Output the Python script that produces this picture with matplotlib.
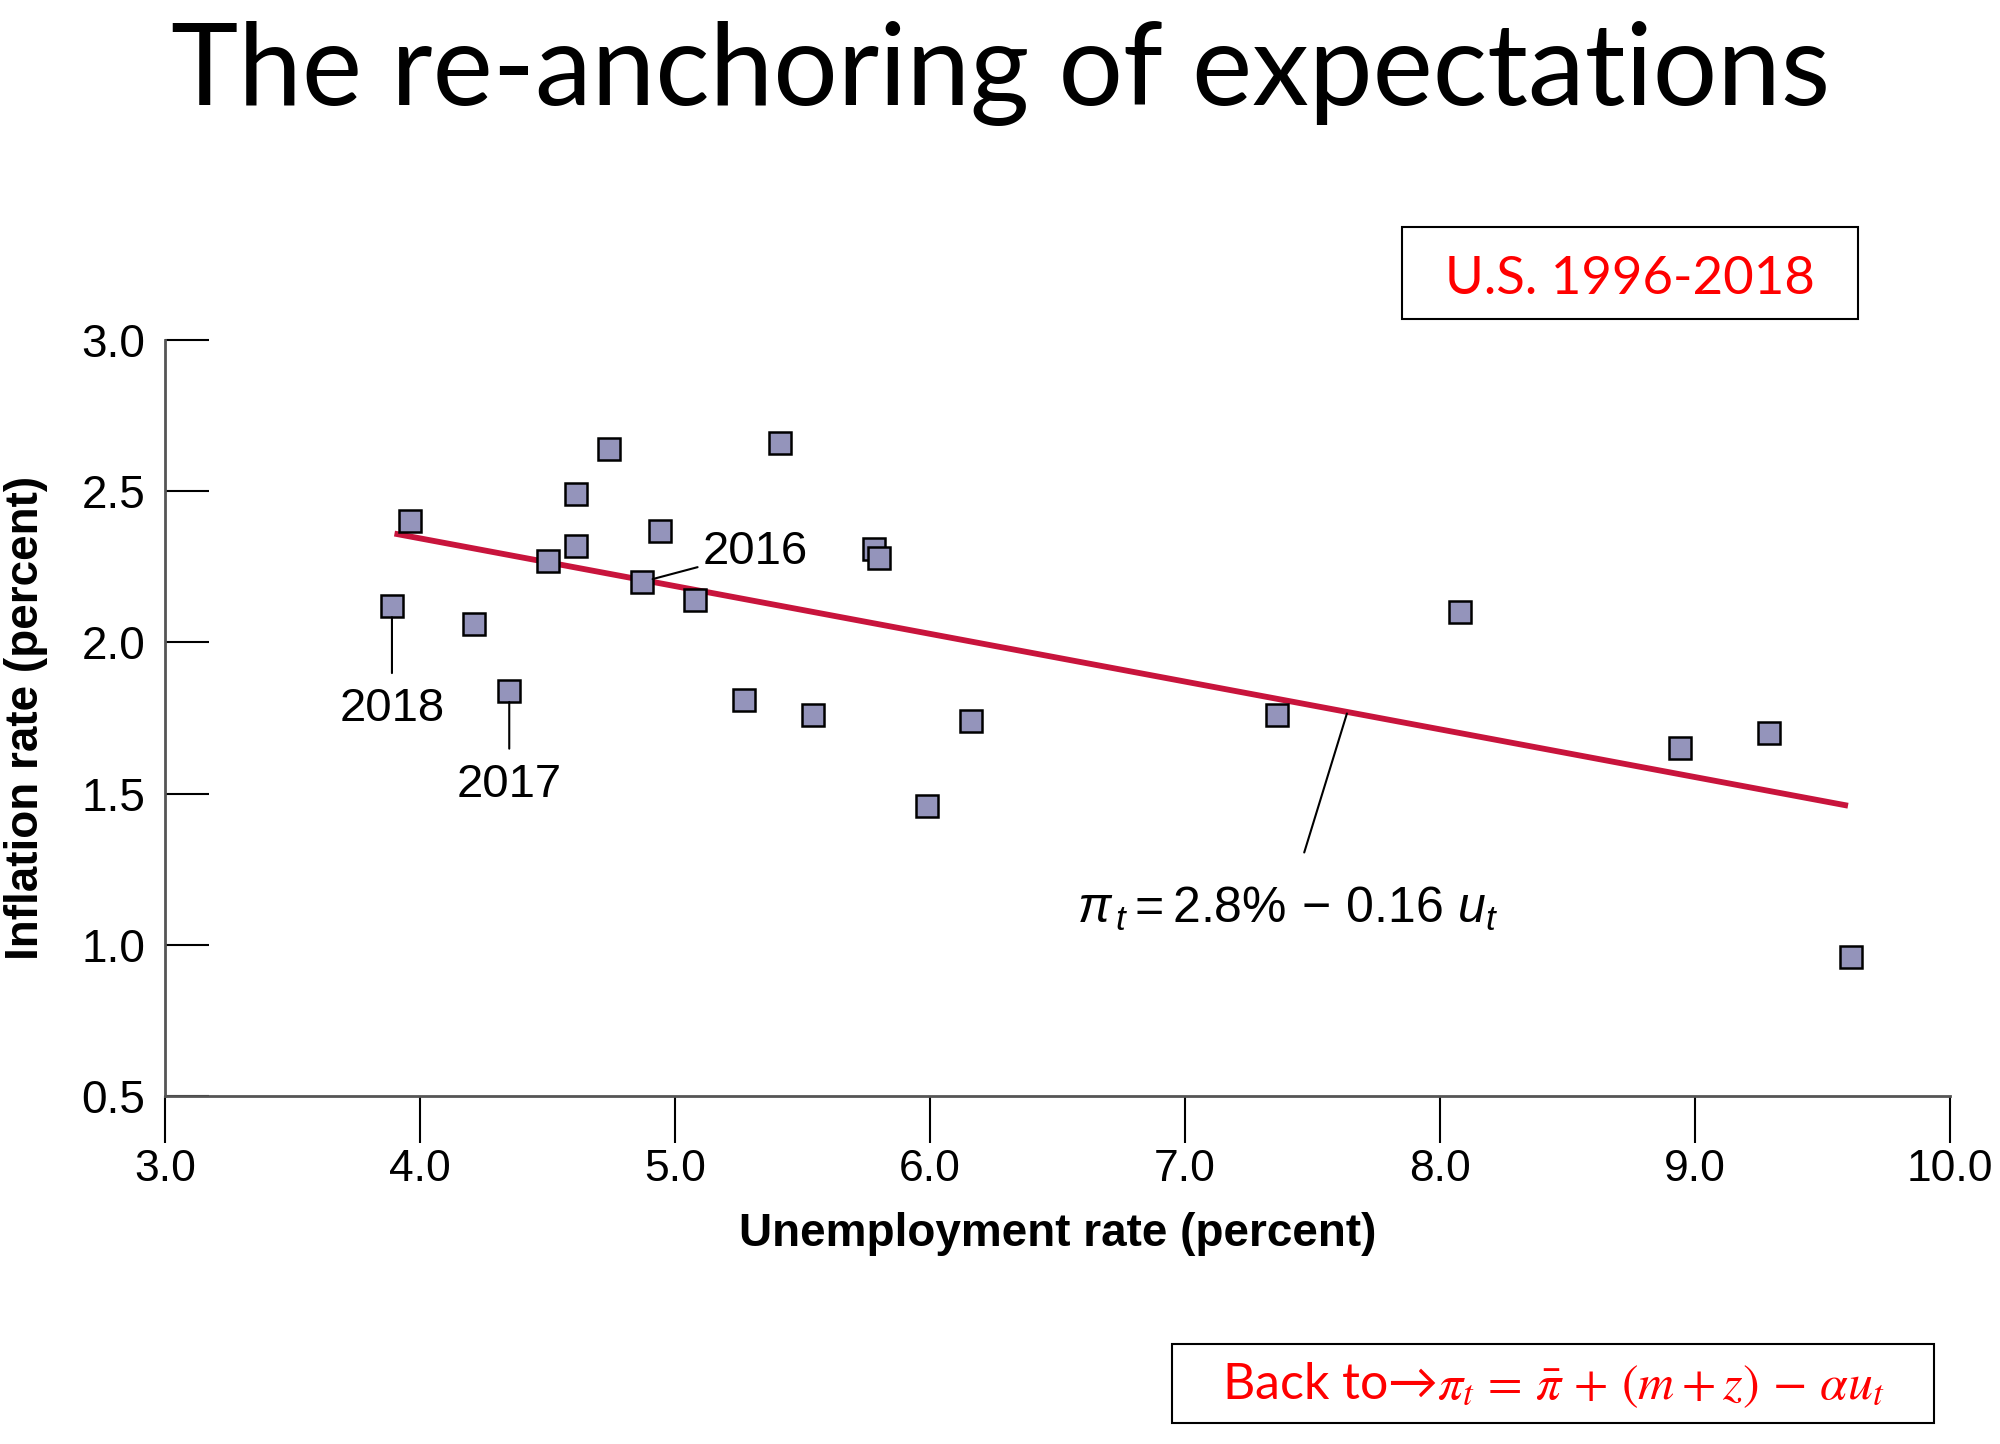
import matplotlib.pyplot as plt
from matplotlib.patches import Rectangle

# unemployment (x) and inflation (y), US 1996-2018
unemployment = [3.89, 3.96, 4.21, 4.35, 4.50, 4.61, 4.61, 4.74, 4.87, 4.94, 5.08, 5.27,
                5.41, 5.54, 5.78, 5.80, 5.99, 6.16, 7.36, 8.08, 8.94, 9.29, 9.61]
inflation = [2.12, 2.40, 2.06, 1.84, 2.27, 2.49, 2.32, 2.64, 2.20, 2.37, 2.14, 1.81,
             2.66, 1.76, 2.31, 2.28, 1.46, 1.74, 1.76, 2.10, 1.65, 1.70, 0.96]

# fitted line as drawn
fit_u = [3.9, 9.6]
fit_pi = [2.36, 1.46]

# labelled years
years = ['2016', '2017', '2018']
year_u = [4.87, 4.35, 3.89]
year_pi = [2.20, 1.84, 2.12]

xticks = [3.0, 4.0, 5.0, 6.0, 7.0, 8.0, 9.0, 10.0]
yticks = [0.5, 1.0, 1.5, 2.0, 2.5, 3.0]

plt.rcParams['mathtext.fontset'] = 'custom'
plt.rcParams['mathtext.rm'] = 'Liberation Sans'
plt.rcParams['mathtext.it'] = 'Liberation Sans:italic'

sans = ['Liberation Sans', 'DejaVu Sans']

fig = plt.figure(figsize=(20, 14.44), dpi=100)
ax = fig.add_axes([0.0825, 0.241, 0.8925, 0.5235])

ax.plot(fit_u, fit_pi, color='#c8143c', lw=4.2, solid_capstyle='butt', zorder=2)
ax.plot(unemployment, inflation, 's', ms=16, mfc='#9494bb', mec='black', mew=1.8,
        zorder=3)

# year labels with leader lines
ax.annotate(years[0], xy=(year_u[0], year_pi[0]), xytext=(5.11, 2.30),
            fontsize=34, family=sans, va='center', ha='left',
            arrowprops=dict(arrowstyle='-', color='black', lw=1.5,
                            shrinkA=2, shrinkB=8))
ax.annotate(years[1], xy=(year_u[1], year_pi[1]), xytext=(year_u[1], 1.53),
            fontsize=34, family=sans, va='center', ha='center',
            arrowprops=dict(arrowstyle='-', color='black', lw=1.5,
                            shrinkA=8, shrinkB=8))
ax.annotate(years[2], xy=(year_u[2], year_pi[2]), xytext=(year_u[2], 1.78),
            fontsize=34, family=sans, va='center', ha='center',
            arrowprops=dict(arrowstyle='-', color='black', lw=1.5,
                            shrinkA=8, shrinkB=8))

ax.annotate(r'$\pi_{\,t} = 2.8\% \,-\, 0.16\ u_t$', xy=(7.635, 1.765), xytext=(7.4, 1.12),
            fontsize=36, va='center', ha='center',
            arrowprops=dict(arrowstyle='-', color='black', lw=1.5,
                            shrinkA=22, shrinkB=0))

ax.set_xlim(3.0, 10.0)
ax.set_ylim(0.5, 3.0)
ax.set_xticks(xticks)
ax.set_yticks(yticks)
ax.set_xticklabels(['%.1f' % v for v in xticks], family=sans, fontsize=32)
ax.set_yticklabels(['%.1f' % v for v in yticks], family=sans, fontsize=33)
ax.tick_params(axis='x', direction='out', length=34, width=1.5, pad=4)
ax.tick_params(axis='y', direction='in', length=32, width=1.5, pad=14)
for s in ['top', 'right']:
    ax.spines[s].set_visible(False)
for s in ['left', 'bottom']:
    ax.spines[s].set_color('#555555')
    ax.spines[s].set_linewidth(2)

ax.set_xlabel('Unemployment rate (percent)', family=sans, fontsize=33,
              fontweight='bold', labelpad=16)
ax.set_ylabel('Inflation rate (percent)', family=sans, fontsize=33,
              fontweight='bold', labelpad=24)

fig.text(0.5005, 0.949, 'The re-anchoring of expectations', ha='center', va='center',
         family=['Lato', 'DejaVu Sans'], fontsize=82)

# boxes
fig.add_artist(Rectangle((1402 / 2000, 1 - 319 / 1444), 456 / 2000, 92 / 1444,
                         transform=fig.transFigure, fill=False, ec='black', lw=1.5))
fig.text(1630 / 2000, 1 - 279 / 1444, 'U.S. 1996-2018', ha='center', va='center',
         color='red', family=['Lato', 'DejaVu Sans'], fontsize=38)

fig.add_artist(Rectangle((1172 / 2000, 1 - 1423 / 1444), 762 / 2000, 79 / 1444,
                         transform=fig.transFigure, fill=False, ec='black', lw=1.5))
fig.text(1553 / 2000, 1 - 1385 / 1444,
         'Back to\u2192' + r'$\pi_t\, =\, \bar{\pi}\, +\, (m + z)\, -\, \alpha u_t$',
         ha='center', va='center', color='red', family=['Lato', 'DejaVu Sans'],
         fontsize=36, math_fontfamily='stix')

fig.savefig('out.png', dpi=100)
